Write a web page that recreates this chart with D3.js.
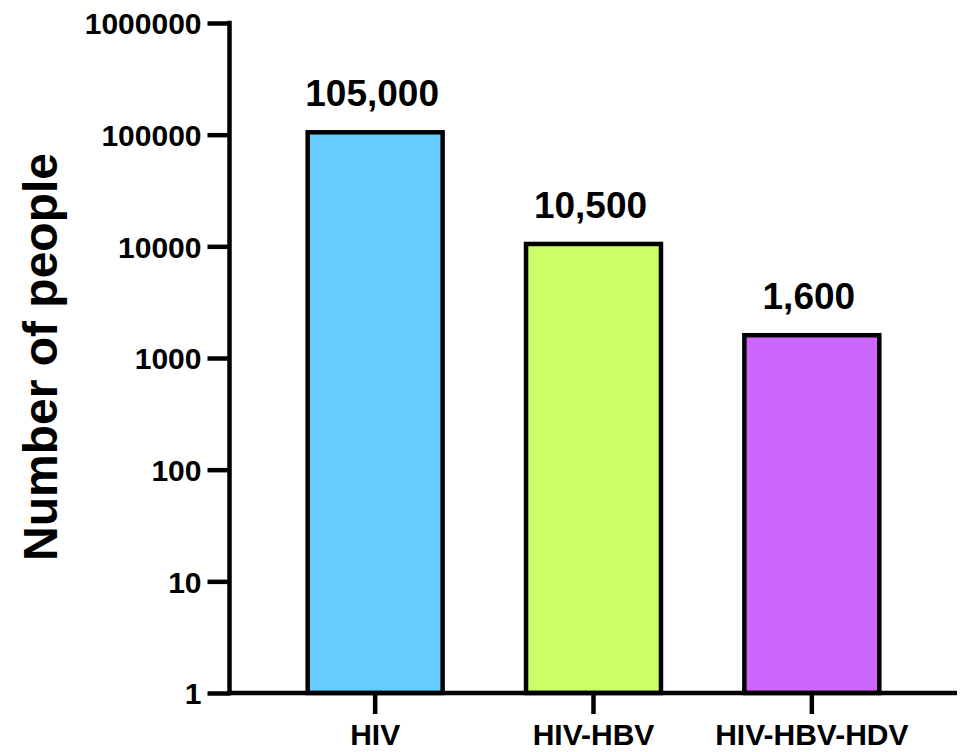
<!DOCTYPE html>
<html>
<head>
<meta charset="utf-8">
<script src="https://cdn.jsdelivr.net/npm/d3@7"></script>
<style>
  html, body { margin: 0; padding: 0; background: #fff; }
  svg text { font-family: "Liberation Sans", Arial, Helvetica, sans-serif; font-weight: bold; fill: #000; }
</style>
</head>
<body>
<svg id="chart" width="961" height="752"></svg>
<script>
var categories = ['HIV', 'HIV-HBV', 'HIV-HBV-HDV'];
var values = [105000, 10500, 1600];
var valueLabels = ['105,000', '10,500', '1,600'];
var colors = ['#66ccff', '#ccff66', '#cc66ff'];
var yTicks = [1, 10, 100, 1000, 10000, 100000, 1000000];

var svg = d3.select('#chart');
var axisX = 229.5, baseY = 693, topY = 23;
var lineW = 4.5;

var y = d3.scaleLog()
  .domain([1, 1000000])
  .range([baseY, topY]);

var x = d3.scaleBand()
  .domain(categories)
  .range([266, 921])
  .paddingInner(0.382)
  .paddingOuter(0.191);

// bars
svg.selectAll('rect.bar')
  .data(values)
  .enter()
  .append('rect')
    .attr('class', 'bar')
    .attr('x', function (d, i) { return x(categories[i]); })
    .attr('y', function (d) { return y(d); })
    .attr('width', x.bandwidth())
    .attr('height', function (d) { return baseY - y(d); })
    .attr('fill', function (d, i) { return colors[i]; })
    .attr('stroke', '#000')
    .attr('stroke-width', lineW);

// value labels
svg.selectAll('text.value')
  .data(values)
  .enter()
  .append('text')
    .attr('class', 'value')
    .attr('x', function (d, i) { return x(categories[i]) + x.bandwidth() / 2 - 3; })
    .attr('y', function (d) { return y(d) - 26; })
    .attr('text-anchor', 'middle')
    .style('font-size', '37px')
    .text(function (d, i) { return valueLabels[i]; });

// y axis
var yAxis = d3.axisLeft(y)
  .tickValues(yTicks)
  .tickFormat(d3.format('d'))
  .tickSize(22)
  .tickSizeOuter(0)
  .tickPadding(6);

var gy = svg.append('g')
  .attr('transform', 'translate(' + axisX + ',0)')
  .call(yAxis);
gy.select('.domain').remove();
gy.selectAll('.tick line').attr('stroke', '#000').attr('stroke-width', lineW);
gy.selectAll('.tick text')
  .style('font-size', '30px')
  .attr('dy', '0.36em');

// y axis line
svg.append('line')
  .attr('x1', axisX).attr('x2', axisX)
  .attr('y1', topY - lineW / 2).attr('y2', baseY + lineW / 2)
  .attr('stroke', '#000').attr('stroke-width', lineW);

// x axis
var xAxis = d3.axisBottom(x)
  .tickSize(21)
  .tickSizeOuter(0)
  .tickPadding(10);

var gx = svg.append('g')
  .attr('transform', 'translate(0,' + baseY + ')')
  .call(xAxis);
gx.select('.domain').remove();
gx.selectAll('.tick line').attr('stroke', '#000').attr('stroke-width', lineW);
gx.selectAll('.tick text')
  .style('font-size', '30px')
  .attr('dy', '0.71em');

svg.append('line')
  .attr('x1', axisX - lineW / 2).attr('x2', 957)
  .attr('y1', baseY).attr('y2', baseY)
  .attr('stroke', '#000').attr('stroke-width', lineW);

// y title
svg.append('text')
  .attr('transform', 'translate(57,357) rotate(-90)')
  .attr('text-anchor', 'middle')
  .style('font-size', '48px')
  .text('Number of people');
</script>
</body>
</html>
